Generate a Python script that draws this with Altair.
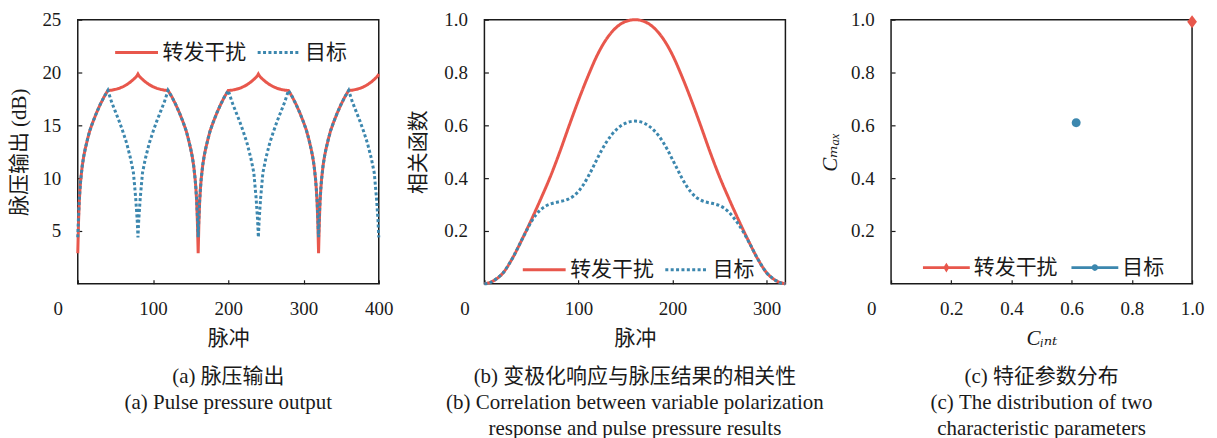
import altair as alt
import pandas as pd

SERIES = ["转发干扰", "目标"]
RED = "#E8574C"
BLUE = "#3C87AE"
COLORS = [RED, BLUE]
INK = "#1a1a1a"
SERIF = "Liberation Serif, DejaVu Serif, Noto Sans CJK SC"
CJK = "Noto Sans CJK SC"

# ---------------- panel (a): pulse pressure output (dB) ----------------
A_X = [0, 1, 2, 3, 4, 6, 8, 10, 13, 16, 20, 25, 30, 35, 40, 45, 50, 55, 60, 65, 70, 74, 77, 79, 80,
       81, 83, 86, 90, 95, 100, 105, 110, 115, 120, 125, 130, 135, 140, 144, 147, 150, 152, 154, 156, 157, 158, 159,
       160, 161, 162, 163, 164, 166, 168, 170, 173, 176, 180, 185, 190, 195, 200, 205, 210, 215, 220, 225, 230, 234, 237, 239, 240,
       241, 243, 246, 250, 255, 260, 265, 270, 275, 280, 285, 290, 295, 300, 304, 307, 310, 312, 314, 316, 317, 318, 319,
       320, 321, 322, 323, 324, 326, 328, 330, 333, 336, 340, 345, 350, 355, 360, 365, 370, 375, 380, 385, 390, 394, 397, 399, 400]
A_RED = [2.9, 5.8, 7.8, 9.0, 9.9, 11.2, 12.1, 12.8, 13.7, 14.5, 15.3, 16.2, 17.0, 17.7, 18.3, 18.33, 18.4, 18.5, 18.65, 18.85, 19.1, 19.35, 19.55, 19.72, 19.85,
         19.72, 19.55, 19.35, 19.1, 18.85, 18.65, 18.5, 18.4, 18.33, 18.3, 17.7, 17.0, 16.2, 15.3, 14.5, 13.7, 12.8, 12.1, 11.2, 9.9, 9.0, 7.8, 5.8,
         2.9, 5.8, 7.8, 9.0, 9.9, 11.2, 12.1, 12.8, 13.7, 14.5, 15.3, 16.2, 17.0, 17.7, 18.3, 18.33, 18.4, 18.5, 18.65, 18.85, 19.1, 19.35, 19.55, 19.72, 19.85,
         19.72, 19.55, 19.35, 19.1, 18.85, 18.65, 18.5, 18.4, 18.33, 18.3, 17.7, 17.0, 16.2, 15.3, 14.5, 13.7, 12.8, 12.1, 11.2, 9.9, 9.0, 7.8, 5.8,
         2.9, 5.8, 7.8, 9.0, 9.9, 11.2, 12.1, 12.8, 13.7, 14.5, 15.3, 16.2, 17.0, 17.7, 18.3, 18.33, 18.4, 18.5, 18.65, 18.85, 19.1, 19.35, 19.55, 19.72, 19.85]
A_BLUE = [4.4, 6.4, 7.9, 9.0, 9.9, 11.2, 12.1, 12.8, 13.7, 14.5, 15.3, 16.2, 17.0, 17.7, 18.3, 17.2, 16.3, 15.4, 14.4, 13.3, 11.9, 10.5, 8.1, 6.0, 4.4,
          6.0, 8.1, 10.5, 11.9, 13.3, 14.4, 15.4, 16.3, 17.2, 18.3, 17.7, 17.0, 16.2, 15.3, 14.5, 13.7, 12.8, 12.1, 11.2, 9.9, 9.0, 7.9, 6.4,
          4.4, 6.4, 7.9, 9.0, 9.9, 11.2, 12.1, 12.8, 13.7, 14.5, 15.3, 16.2, 17.0, 17.7, 18.3, 17.2, 16.3, 15.4, 14.4, 13.3, 11.9, 10.5, 8.1, 6.0, 4.4,
          6.0, 8.1, 10.5, 11.9, 13.3, 14.4, 15.4, 16.3, 17.2, 18.3, 17.7, 17.0, 16.2, 15.3, 14.5, 13.7, 12.8, 12.1, 11.2, 9.9, 9.0, 7.9, 6.4,
          4.4, 6.4, 7.9, 9.0, 9.9, 11.2, 12.1, 12.8, 13.7, 14.5, 15.3, 16.2, 17.0, 17.7, 18.3, 17.2, 16.3, 15.4, 14.4, 13.3, 11.9, 10.5, 8.1, 6.0, 4.4]

# ---------------- panel (b): correlation function ----------------
B_X_RED = [0, 10, 20, 30, 40, 50, 60, 70, 80, 90, 100, 110, 120, 130, 140, 150, 160,
           170, 180, 190, 200, 210, 220, 230, 240, 250, 260, 270, 280, 290, 300, 310, 320]
B_RED = [0.0, 0.012, 0.042, 0.098, 0.168, 0.243, 0.322, 0.405, 0.498, 0.598, 0.695, 0.785, 0.866, 0.928, 0.970, 0.993, 1.0,
         0.993, 0.970, 0.928, 0.866, 0.785, 0.695, 0.598, 0.498, 0.405, 0.322, 0.243, 0.168, 0.098, 0.042, 0.012, 0.0]
B_X_BLUE = [0, 5, 10, 15, 20, 25, 30, 35, 40, 45, 50, 55, 60, 65, 70, 75, 80, 85, 90, 95, 100, 105, 110, 115, 120,
            125, 130, 135, 140, 145, 150, 155, 160, 165, 170, 175, 180, 185, 190, 195, 200, 205, 210, 215, 220, 225,
            230, 235, 240, 245, 250, 255, 260, 265, 270, 275, 280, 285, 290, 295, 300, 305, 310, 315, 320]
B_BLUE = [0.0, 0.003, 0.012, 0.025, 0.042, 0.068, 0.098, 0.132, 0.168, 0.203, 0.236, 0.262, 0.281, 0.294, 0.302, 0.307,
          0.311, 0.315, 0.322, 0.333, 0.350, 0.374, 0.404, 0.438, 0.474, 0.508, 0.538, 0.563, 0.583, 0.598, 0.608, 0.614, 0.616,
          0.614, 0.608, 0.597, 0.582, 0.562, 0.536, 0.505, 0.470, 0.435, 0.400, 0.370, 0.346, 0.328, 0.317, 0.310, 0.306,
          0.302, 0.296, 0.286, 0.271, 0.250, 0.226, 0.198, 0.166, 0.132, 0.098, 0.068, 0.042, 0.025, 0.012, 0.003, 0.0]

# ---------------- panel (c): characteristic parameters ----------------
C_INT = [1.0, 0.615]
C_MAX = [0.992, 0.61]

# marker / legend glyphs (unit-square SVG paths)
DIAMOND = "M0,-1L0.75,0L0,1L-0.75,0Z"
CIRCLE = "M-0.69,0A0.69,0.69 0 1,1 0.69,0A0.69,0.69 0 1,1 -0.69,0Z"
LEG_DIAMOND = "M-1,-0.06H1V0.06H-1ZM0,-0.21L0.13,0L0,0.21L-0.13,0Z"
LEG_CIRCLE = "M-1,-0.06H1V0.06H-1ZM-0.14,0A0.14,0.14 0 1,1 0.14,0A0.14,0.14 0 1,1 -0.14,0Z"

W, H = 302, 265
ZERO_SHIFT = {"condition": {"test": "datum.value == 0", "value": -20}, "value": 0}


def x_axis(vals, title, expr, title_style="normal"):
    return alt.Axis(values=vals, title=title, labelExpr=expr, labelFont=SERIF, labelFontSize=19,
                    labelColor=INK, labelPadding=20, labelOffset=ZERO_SHIFT, labelFlush=False,
                    labelOverlap=False, tickSize={"expr": "-4"}, tickColor=INK, tickWidth=1.2,
                    domain=False, grid=False, titleFont=SERIF, titleFontSize=21,
                    titleFontWeight="normal", titleFontStyle=title_style, titleColor=INK, titlePadding=9)


def y_axis(vals, title, fmt, pad, title_style="normal"):
    return alt.Axis(values=vals, title=title, format=fmt, labelFont=SERIF, labelFontSize=19,
                    labelColor=INK, labelPadding=21, labelFlush=False, labelOverlap=False,
                    tickSize={"expr": "-4"}, tickColor=INK, tickWidth=1.2, domain=False, grid=False,
                    titleFont=SERIF, titleFontSize=21, titleFontWeight="normal",
                    titleFontStyle=title_style, titleColor=INK, titlePadding=pad)


def caption(lines):
    return alt.TitleParams(text=lines, orient="bottom", anchor="middle", frame="group", font=SERIF,
                           fontSize=21, fontWeight="normal", lineHeight=26, offset=18, color=INK)


def line_legend(lx, ly):
    return alt.Legend(orient="none", legendX=lx, legendY=ly, direction="horizontal", title=None,
                      symbolType="stroke", symbolSize=1849, symbolStrokeWidth=3, labelFont=CJK,
                      labelFontSize=21, labelColor=INK, labelOffset=3, columnPadding=5, padding=0)


def line_panel(df, xdom, xvals, yaxis, ydom, leg, cap, interp):
    return alt.Chart(df).mark_line(strokeWidth=3, strokeCap="butt", interpolate=interp).encode(
        x=alt.X("x:Q", scale=alt.Scale(domain=xdom, nice=False, zero=False),
                axis=x_axis(xvals, "脉冲", "datum.label")),
        y=alt.Y("y:Q", scale=alt.Scale(domain=ydom, nice=False, zero=False), axis=yaxis),
        color=alt.Color("s:N", scale=alt.Scale(domain=SERIES, range=COLORS), legend=leg),
        strokeDash=alt.StrokeDash("s:N", scale=alt.Scale(domain=SERIES, range=[[1, 0], [3, 2.4]]),
                                  legend=leg),
    ).properties(width=W, height=H, title=caption(cap))


df_a = pd.DataFrame({"x": A_X + A_X, "y": A_RED + A_BLUE,
                     "s": [SERIES[0]] * len(A_X) + [SERIES[1]] * len(A_X)})
chart_a = line_panel(df_a, [0, 400], [0, 100, 200, 300, 400],
                     y_axis([5, 10, 15, 20, 25], "脉压输出 (dB)", "d", 12), [0, 25],
                     line_legend(36, 10), ["(a) 脉压输出", "(a) Pulse pressure output"], "linear")

df_b = pd.DataFrame({"x": B_X_RED + B_X_BLUE, "y": B_RED + B_BLUE,
                     "s": [SERIES[0]] * len(B_X_RED) + [SERIES[1]] * len(B_X_BLUE)})
chart_b = line_panel(df_b, [0, 320], [0, 100, 200, 300],
                     y_axis([0.2, 0.4, 0.6, 0.8, 1.0], "相关函数", ".1f", 15), [0, 1],
                     line_legend(37, 228),
                     ["(b) 变极化响应与脉压结果的相关性", "(b) Correlation between variable polarization",
                      "response and pulse pressure results"], "monotone")

df_c = pd.DataFrame({"x": C_INT, "y": C_MAX, "s": SERIES, "fillc": COLORS, "glyph": [DIAMOND, CIRCLE]})
cx = alt.X("x:Q", scale=alt.Scale(domain=[0, 1], nice=False, zero=False),
           axis=x_axis([0, 0.2, 0.4, 0.6, 0.8, 1.0], "Cᵢₙₜ",
                       "datum.value == 0 ? '0' : format(datum.value, '.1f')", "italic"))
cy = alt.Y("y:Q", scale=alt.Scale(domain=[0, 1], nice=False, zero=False),
           axis=y_axis([0.2, 0.4, 0.6, 0.8, 1.0], "Cₘₐₓ", ".1f", 10, "italic"))
leg_c = alt.Legend(orient="none", legendX=32, legendY=225, direction="horizontal", title=None,
                   symbolSize=2209, symbolStrokeWidth=0, labelFont=CJK, labelFontSize=21,
                   labelColor=INK, labelOffset=4, columnPadding=14, padding=0)
pts = alt.Chart(df_c).mark_point(filled=True, size=169, opacity=1).encode(
    x=cx, y=cy,
    fill=alt.Fill("fillc:N", scale=None),
    shape=alt.Shape("glyph:N", scale=None),
)
legend_layer = alt.Chart(df_c).transform_filter("false").mark_point(filled=True, opacity=1).encode(
    x=cx, y=cy,
    fill=alt.Fill("s:N", scale=alt.Scale(domain=SERIES, range=COLORS), legend=leg_c),
    shape=alt.Shape("s:N", scale=alt.Scale(domain=SERIES, range=[LEG_DIAMOND, LEG_CIRCLE]), legend=leg_c),
)
chart_c = alt.layer(pts, legend_layer).properties(
    width=W, height=H,
    title=caption(["(c) 特征参数分布", "(c) The distribution of two", "characteristic parameters"]))

chart = alt.hconcat(chart_a, chart_b, chart_c, spacing=106, bounds="flush").resolve_scale(
    color="independent", strokeDash="independent", fill="independent", shape="independent"
).resolve_legend(
    color="independent", strokeDash="independent", fill="independent", shape="independent"
).properties(
    padding={"left": 0, "top": 1, "right": 4, "bottom": 0}
).configure_view(stroke=INK, strokeWidth=1.5)

chart.save("out.html", embed_options={"renderer": "svg", "actions": False})
